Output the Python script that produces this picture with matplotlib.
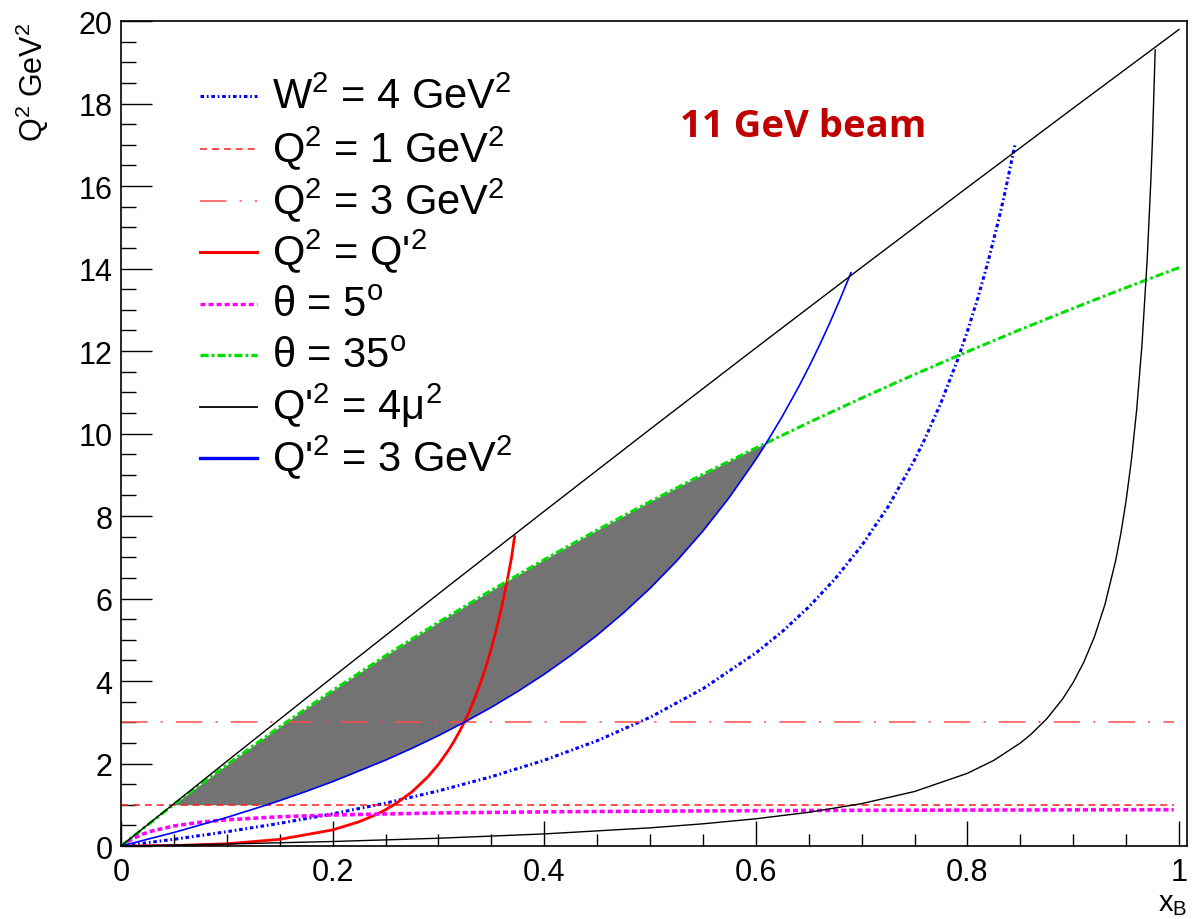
import matplotlib
matplotlib.use("Agg")
import matplotlib.pyplot as plt
from matplotlib.ticker import MultipleLocator, FormatStrFormatter

plt.rcParams['font.family'] = ['Liberation Sans', 'DejaVu Sans']
plt.rcParams['mathtext.fontset'] = 'custom'
plt.rcParams['mathtext.rm'] = 'Liberation Sans'
plt.rcParams['mathtext.it'] = 'Liberation Sans:italic'
plt.rcParams['mathtext.bf'] = 'Liberation Sans:bold'
plt.rcParams['lines.scale_dashes'] = False

# upper black line (electron scattered backwards)
lim_x = [0, 0.1, 0.2, 0.3, 0.4, 0.5, 0.6, 0.7, 0.8, 0.9, 1.0]
lim_q2 = [0, 2.055, 4.093, 6.114, 8.117, 10.104, 12.075, 14.029, 15.967, 17.889, 19.796]

# W^2 = 4 GeV^2
w_x = [0, 0.05, 0.1, 0.15, 0.2, 0.25, 0.3, 0.35, 0.4, 0.45, 0.5, 0.55, 0.6, 0.625,
       0.65, 0.675, 0.7, 0.725, 0.75, 0.76, 0.775, 0.79, 0.8, 0.81, 0.82, 0.83, 0.835, 0.845]
w_q2 = [0, 0.164, 0.347, 0.551, 0.78, 1.04, 1.337, 1.68, 2.08, 2.553, 3.12, 3.813, 4.68, 5.2,
        5.794, 6.48, 7.28, 8.225, 9.36, 9.88, 10.747, 11.737, 12.48, 13.3, 14.213, 15.233, 15.79, 17.0]

# Q^2 = 1 and Q^2 = 3
q1_x = [0, 0.995]
q1_q2 = [1, 1]
q3_x = [0, 0.995]
q3_q2 = [3, 3]

# Q^2 = Q'^2
eq_x = [0, 0.05, 0.1, 0.15, 0.2, 0.225, 0.24, 0.25, 0.26, 0.275, 0.29, 0.3, 0.31, 0.315,
        0.32, 0.325, 0.33, 0.335, 0.34, 0.345, 0.35, 0.355, 0.36, 0.365, 0.369, 0.372]
eq_q2 = [0, 0.011, 0.055, 0.162, 0.391, 0.589, 0.75, 0.88, 1.033, 1.314, 1.678, 1.98, 2.342, 2.551,
         2.781, 3.035, 3.315, 3.627, 3.973, 4.359, 4.79, 5.274, 5.818, 6.432, 6.981, 7.5]

# theta = 5 deg
t5_x = [0, 0.01, 0.02, 0.03, 0.05, 0.075, 0.1, 0.15, 0.2, 0.3, 0.4, 0.5, 0.6,
        0.7, 0.8, 0.9, 0.995]
t5_q2 = [0, 0.169, 0.285, 0.37, 0.487, 0.577, 0.637, 0.71, 0.753, 0.802, 0.829, 0.846,
         0.857, 0.866, 0.872, 0.877, 0.881]

# theta = 35 deg
t35_x = [0, 0.025, 0.05, 0.1, 0.15, 0.2, 0.25, 0.3, 0.35, 0.4, 0.45, 0.5, 0.55,
         0.6, 0.65, 0.7, 0.75, 0.8, 0.85, 0.9, 0.95, 1.0]
t35_q2 = [0, 0.51, 1.008, 1.971, 2.891, 3.771, 4.615, 5.423, 6.199, 6.944, 7.66, 8.349,
          9.012, 9.65, 10.266, 10.86, 11.433, 11.986, 12.521, 13.038, 13.538, 14.023]

# Q'^2 = 4 mu^2 threshold
mu_x = [0, 0.1, 0.2, 0.3, 0.4, 0.5, 0.55, 0.6, 0.65, 0.7, 0.75, 0.8, 0.825, 0.85, 0.86,
        0.875, 0.89, 0.9, 0.91, 0.92, 0.93, 0.94, 0.945, 0.95, 0.955, 0.96, 0.965,
        0.97, 0.9735, 0.975, 0.9775]
mu_q2 = [0, 0.049, 0.11, 0.189, 0.294, 0.441, 0.539, 0.661, 0.818, 1.028, 1.322, 1.763, 2.078,
         2.497, 2.707, 3.085, 3.566, 3.966, 4.456, 5.068, 5.855, 6.904, 7.572, 8.373, 9.353,
         10.577, 12.151, 14.249, 16.19, 17.19, 19.3]

# Q'^2 = 3 GeV^2
b_x = [0, 0.05, 0.1, 0.138, 0.15, 0.175, 0.2, 0.25, 0.275, 0.3, 0.325, 0.35, 0.375, 0.4,
       0.425, 0.45, 0.475, 0.5, 0.525, 0.55, 0.575, 0.6, 0.61, 0.625, 0.64, 0.65, 0.66,
       0.67, 0.68, 0.69]
b_q2 = [0, 0.329, 0.694, 1.0, 1.103, 1.326, 1.562, 2.083, 2.37, 2.678, 3.009, 3.365, 3.749, 4.166,
        4.619, 5.113, 5.654, 6.249, 6.907, 7.638, 8.455, 9.374, 9.774, 10.415, 11.109, 11.605,
        12.13, 12.687, 13.279, 13.9]

# shaded region
sh_x = [0.05, 0.1, 0.138, 0.15, 0.175, 0.2, 0.25, 0.3, 0.35, 0.4, 0.45, 0.5, 0.525,
        0.55, 0.575, 0.6, 0.61]
sh_low = [1.0, 1.0, 1.0, 1.103, 1.326, 1.562, 2.083, 2.678, 3.365, 4.166, 5.113, 6.249, 6.907,
          7.638, 8.455, 9.374, 9.776]
sh_high = [1.008, 1.971, 2.674, 2.891, 3.336, 3.771, 4.615, 5.423, 6.199, 6.944, 7.66, 8.349, 8.683,
           9.012, 9.334, 9.65, 9.776]

fig = plt.figure(figsize=(12.02, 9.2), dpi=100)
ax = fig.add_axes([0.1007, 0.0793, 0.8872, 0.8967])

ax.fill_between(sh_x, sh_low, sh_high, color='#737373', lw=0)

styles = [
    # x, y, label, color, lw, dashes, legend lw
    (w_x, w_q2, r"W$^2$ = 4 GeV$^2$", '#0000ff', 2.2, (2.6, 2.0, 1.2, 2.0), 2.2),
    (q1_x, q1_q2, r"Q$^2$ = 1 GeV$^2$", '#ff1a1a', 1.1, (5.0, 3.6), 1.1),
    (q3_x, q3_q2, r"Q$^2$ = 3 GeV$^2$", '#ff4a4a', 1.1, (19, 9.5, 1.5, 9.5), 1.1),
    (eq_x, eq_q2, r"Q$^2$ = Q'$^2$", '#ff0000', 2.0, None, 2.2),
    (t5_x, t5_q2, r"θ = 5$^{\rm o}$", '#ff00ff', 2.6, (3.6, 2.2), 2.4),
    (t35_x, t35_q2, r"θ = 35$^{\rm o}$", '#00e000', 2.2, (5.8, 2.2, 2.0, 2.2), 2.4),
    (mu_x, mu_q2, r"Q'$^2$ = 4μ$^2$", '#000000', 1.0, None, 1.3),
    (b_x, b_q2, r"Q'$^2$ = 3 GeV$^2$", '#0000ff', 1.2, None, 2.4),
]

for xs, ys, lab, col, lw, ds, llw in styles:
    line, = ax.plot(xs, ys, color=col, lw=lw)
    if ds is not None:
        line.set_dashes(ds)

ax.plot(lim_x, lim_q2, color='black', lw=1.0)

# legend drawn by hand, ROOT style
leg_y = [97.3, 150, 202, 253, 305.3, 356, 408.3, 459.3]
for (xs, ys, lab, col, lw, ds, llw), py in zip(styles, leg_y):
    yy = (847 - py) / 825
    h, = ax.plot([0.0741, 0.1275], [yy, yy], transform=ax.transAxes, color=col, lw=llw, clip_on=False)
    if ds is not None:
        h.set_dashes(ds)
    ax.text(0.1416, yy - 12 / 825, lab, transform=ax.transAxes, fontsize=30,
            va='baseline', ha='left')

ax.text(0.524, (847 - 137) / 825, "11 GeV beam", transform=ax.transAxes,
        fontsize=27.5, fontweight='bold', color='#c00000', family='Open Sans', va='baseline')

ax.set_xlim(0, 1.008)
ax.set_ylim(0, 20)
ax.xaxis.set_major_locator(MultipleLocator(0.2))
ax.xaxis.set_minor_locator(MultipleLocator(0.05))
ax.yaxis.set_major_locator(MultipleLocator(2))
ax.yaxis.set_minor_locator(MultipleLocator(0.5))
ax.xaxis.set_major_formatter(FormatStrFormatter('%g'))
ax.yaxis.set_major_formatter(FormatStrFormatter('%g'))
ax.tick_params(axis='both', which='both', direction='in', top=False, right=False, width=1.0)
ax.tick_params(axis='y', which='major', length=22, labelsize=22, pad=6)
ax.tick_params(axis='y', which='minor', length=11)
ax.tick_params(axis='x', which='major', length=18, labelsize=22, pad=8)
ax.tick_params(axis='x', which='minor', length=9)
for sp in ax.spines.values():
    sp.set_linewidth(1.2)

ax.set_ylabel(r"Q$^2$ GeV$^2$", fontsize=22, loc='top')
ax.yaxis.set_label_coords(-0.066, 1.0)
ax.set_xlabel(r"x$_{\rm B}$", fontsize=21, loc='right')
ax.xaxis.set_label_coords(1.0, -0.052)

fig.savefig("out.png", dpi=100)
